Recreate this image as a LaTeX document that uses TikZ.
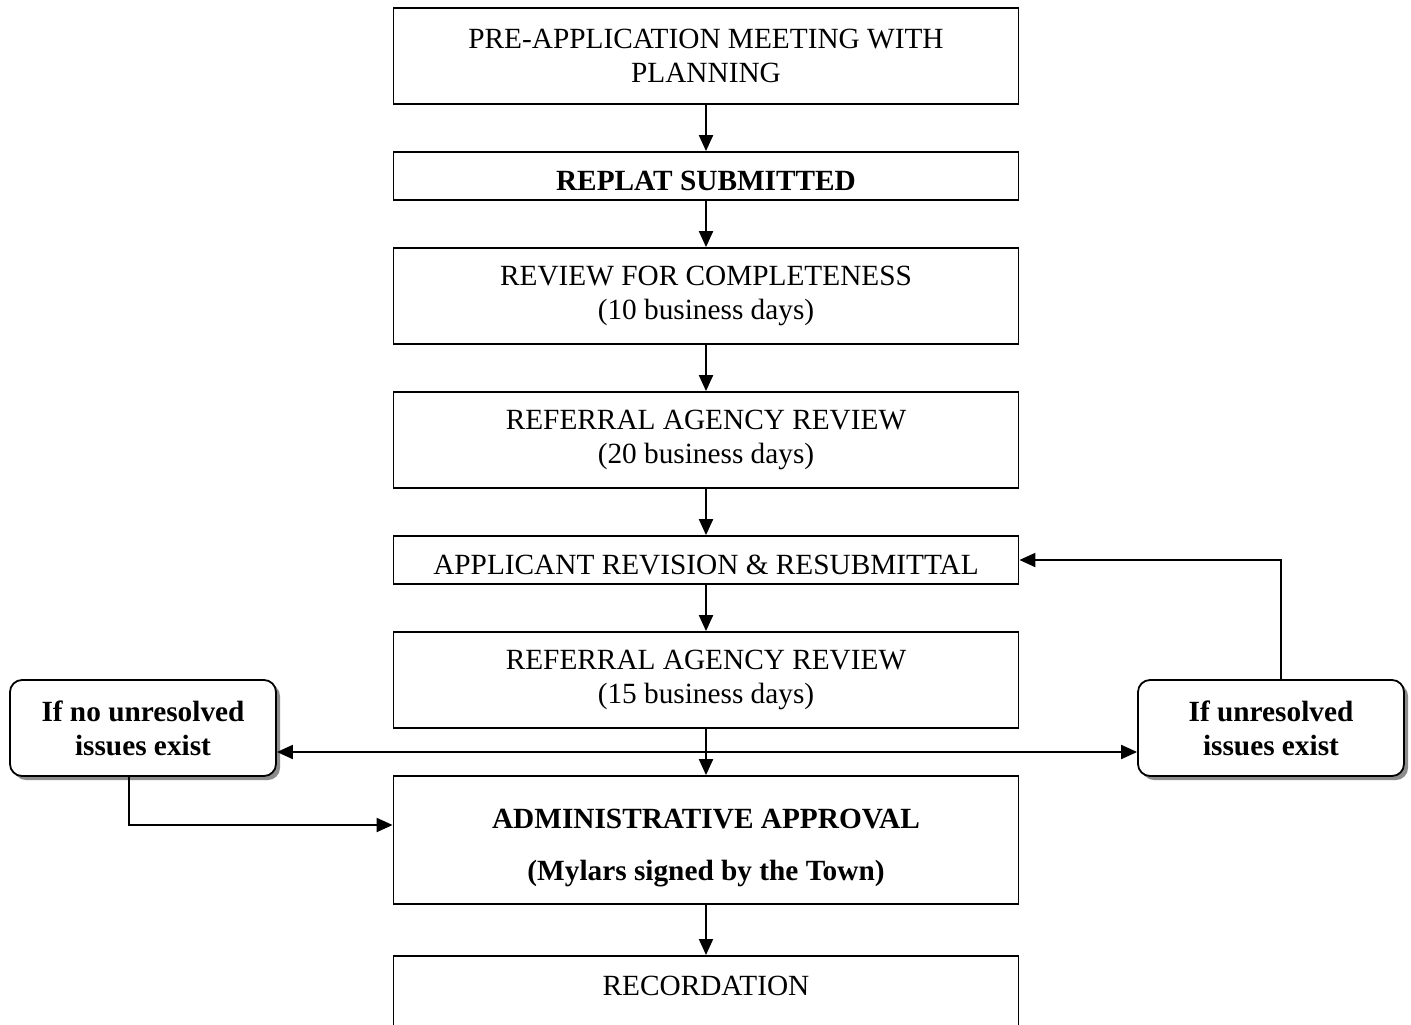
\documentclass[tikz,border=0pt]{standalone}
\usepackage{fontspec}
\setmainfont{Liberation Serif}
\usetikzlibrary{arrows.meta,shadows}
\begin{document}
\begin{tikzpicture}[x=1pt,y=-1pt,
  every node/.style={font=\fontsize{29.3}{34}\selectfont},
  box/.style={draw,line width=1.8pt,rectangle,minimum width=625pt,inner sep=0pt,align=center,fill=white},
  single/.style={text height=29pt,text depth=0pt},
  side/.style={draw,line width=1.8pt,rectangle,rounded corners=12pt,minimum width=266pt,minimum height=96pt,inner sep=0pt,align=center,fill=white,
    font=\fontsize{29.3}{34}\selectfont\bfseries,
    drop shadow={shadow xshift=4pt,shadow yshift=-4pt,fill=black!45,opacity=1}},
  conn/.style={line width=2pt,-{Triangle[length=16pt,width=14pt]}},
  line/.style={line width=2pt}]
\clip (0,0) rectangle (1411,1025);
\fill[white] (0,0) rectangle (1411,1025);
\node[box,minimum height=96pt] (pre) at (706,56) {PRE-APPLICATION MEETING WITH\\PLANNING};
\node[box,single,minimum height=48pt] (replat) at (706,176) {\bfseries REPLAT SUBMITTED};
\node[box,minimum height=96pt] (review) at (706,296) {REVIEW FOR COMPLETENESS\\(10 business days)};
\node[box,minimum height=96pt] (ref1) at (706,440) {REFERRAL AGENCY REVIEW\\(20 business days)};
\node[box,single,minimum height=48pt] (appl) at (706,560) {APPLICANT REVISION \& RESUBMITTAL};
\node[box,minimum height=96pt] (ref2) at (706,680) {REFERRAL AGENCY REVIEW\\(15 business days)};
\node[box,minimum height=128pt] (admin) at (706,840) {};
\node[align=center,font=\fontsize{29.3}{34}\selectfont\bfseries] (admintext) at (706,848) {ADMINISTRATIVE APPROVAL\\[18pt](Mylars signed by the Town)};
\node[box,minimum height=100pt,anchor=north] (rec) at (706,955) {};
\node (rectext) at (706,986) {RECORDATION};
\node[side] (noiss) at (143,728) {If no unresolved\\issues exist};
\node[side] (iss) at (1271,728) {If unresolved\\issues exist};
\draw[conn] (pre) -- (replat);
\draw[conn] (replat) -- (review);
\draw[conn] (review) -- (ref1);
\draw[conn] (ref1) -- (appl);
\draw[conn] (appl) -- (ref2);
\draw[conn] (ref2) -- (admin);
\draw[conn] (admin) -- (rec);
\coordinate (mid) at (706,752);
\draw[line,{Triangle[length=16pt,width=14pt]}-{Triangle[length=16pt,width=14pt]}] (noiss.east |- mid) -- (iss.west |- mid);
\draw[conn] (noiss.south -| 129,0) |- (admin.west |- 0,825);
\draw[conn] (iss.north -| 1281,0) |- (appl.east);
\end{tikzpicture}
\end{document}
